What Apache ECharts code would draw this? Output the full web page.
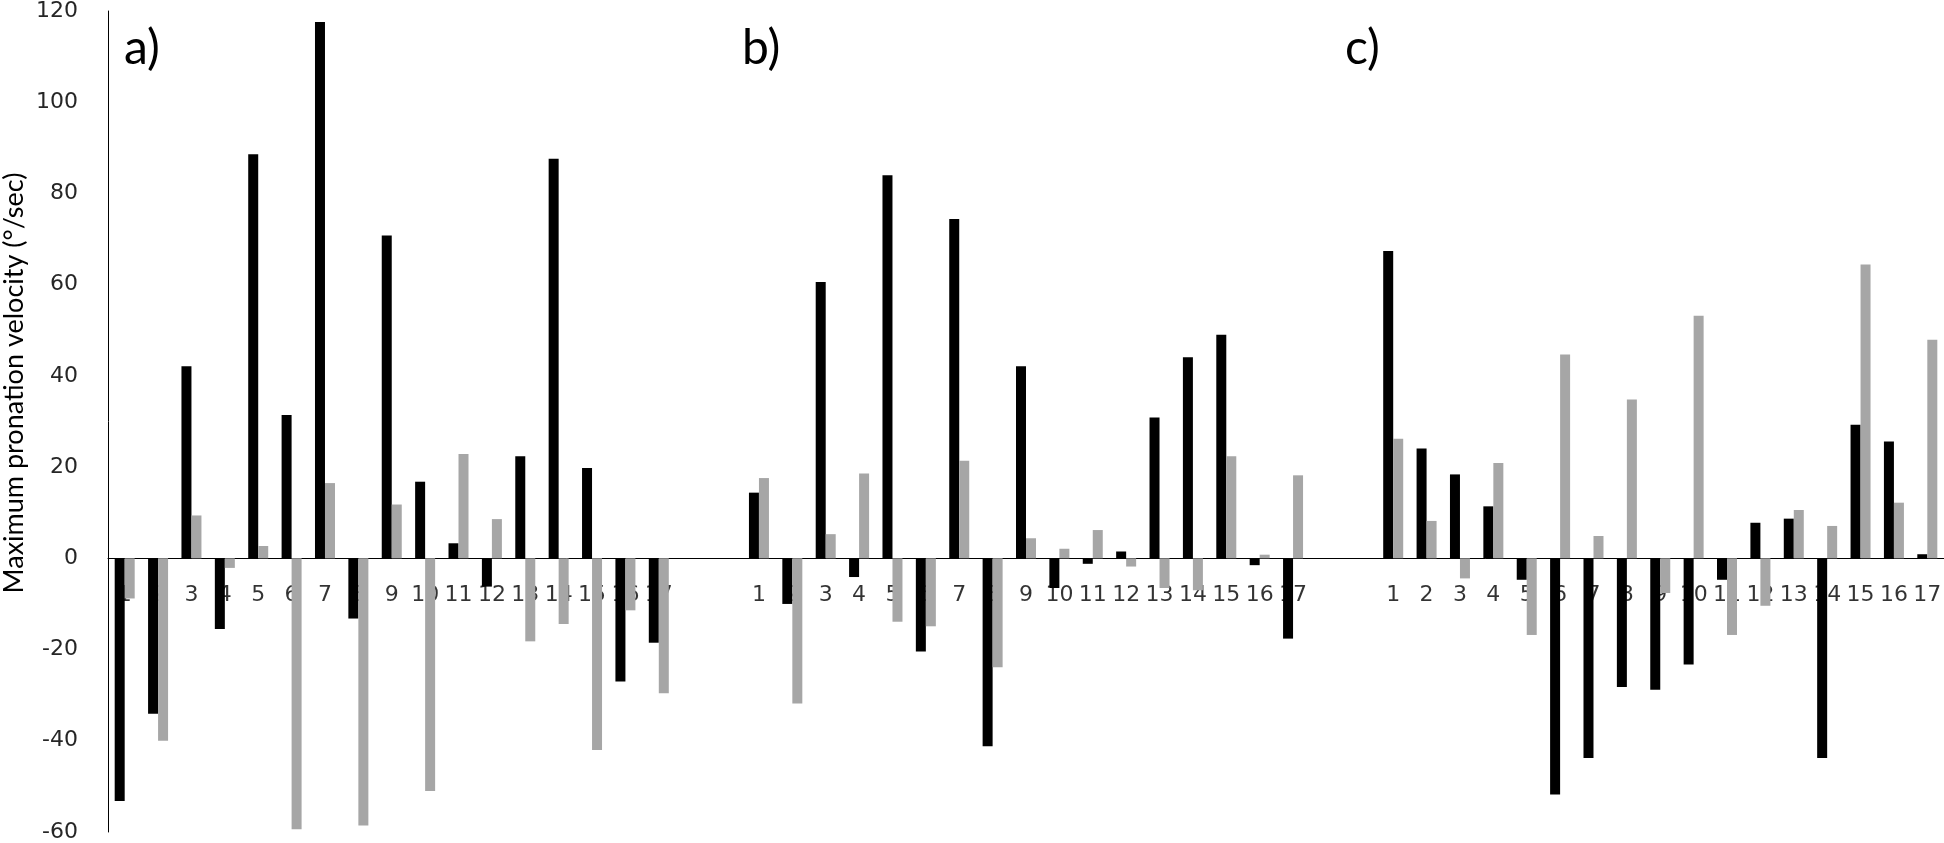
<!DOCTYPE html>
<html>
<head>
<meta charset="utf-8">
<script src="https://cdn.jsdelivr.net/npm/echarts@6/dist/echarts.min.js"></script>
<style>
  html, body { margin: 0; padding: 0; background: #fff; }
  #main { width: 1944px; height: 843px; }
</style>
</head>
<body>
<div id="main"></div>
<script>
// subject numbers shown under each bar pair
const subjects = ['1','2','3','4','5','6','7','8','9','10','11','12','13','14','15','16','17'];
const panelNames = ['a)', 'b)', 'c)'];
const yTicks = { min: -60, max: 120, step: 20 };

// panel a
const aBlack = [-53.2, -34.1, 42.1, -15.5, 88.6, 31.4, 117.6, -13.2, 70.8, 16.8, 3.3, -6.2, 22.4, 87.6, 19.8, -27, -18.5];
const aGray  = [-8.8, -40, 9.4, -2.1, 2.7, -59.4, 16.5, -58.6, 11.8, -51, 22.9, 8.6, -18.2, -14.4, -42, -11.4, -29.6];
// panel b
const bBlack = [14.4, -10, 60.6, -4.1, 84, -20.4, 74.4, -41.2, 42.1, -6.5, -1.2, 1.5, 30.9, 44.1, 49, -1.5, -17.6];
const bGray  = [17.6, -31.8, 5.3, 18.6, -13.9, -14.9, 21.4, -23.9, 4.4, 2.1, 6.2, -1.8, -6.5, -7, 22.4, 0.8, 18.2];
// panel c
const cBlack = [67.4, 24.1, 18.4, 11.4, -4.7, -51.8, -43.8, -28.2, -28.8, -23.3, -4.7, 7.8, 8.7, -43.8, 29.3, 25.6, 0.9];
const cGray  = [26.2, 8.2, -4.4, 20.9, -16.8, 44.7, 4.9, 34.8, -7.6, 53.2, -16.8, -10.4, 10.6, 7.1, 64.4, 12.2, 47.9];

// two empty slots between panels
const gap = ['', ''];
const gapVals = [null, null];

const categories = [...subjects, ...gap, ...subjects, ...gap, ...subjects];
const blackData = [...aBlack, ...gapVals, ...bBlack, ...gapVals, ...cBlack];
const grayData  = [...aGray, ...gapVals, ...bGray, ...gapVals, ...cGray];
// anchors on the zero line that carry the subject numbers
const zeroLine = categories.map(() => 0);

const chart = echarts.init(document.getElementById('main'));

chart.setOption({
  backgroundColor: '#fff',
  animation: false,
  title: [
    { text: panelNames[0], left: 119, top: 20 },
    { text: panelNames[1], left: 737, top: 20 },
    { text: panelNames[2], left: 1340, top: 20 }
  ].map(t => ({
    ...t,
    textStyle: { fontFamily: 'Lato', fontSize: 48, fontWeight: 'normal', color: '#000' }
  })),
  graphic: [{
    type: 'text',
    x: 14,
    y: 383,
    rotation: Math.PI / 2,
    style: {
      text: 'Maximum pronation velocity (°/sec)',
      font: '27px "Liberation Sans Narrow", Lato',
      fill: '#000',
      textAlign: 'center',
      textVerticalAlign: 'middle'
    }
  }],
  grid: { left: 108, right: 0, top: 10, bottom: 10, containLabel: false },
  xAxis: {
    type: 'category',
    data: categories,
    axisLine: { onZero: true, lineStyle: { color: '#000', width: 1 } },
    axisTick: { show: false },
    axisLabel: { show: false },
    splitLine: { show: false }
  },
  yAxis: {
    type: 'value',
    min: yTicks.min,
    max: yTicks.max,
    interval: yTicks.step,
    axisLine: { show: true, lineStyle: { color: '#000', width: 1 } },
    axisTick: { show: false },
    splitLine: { show: false },
    axisLabel: {
      margin: 30,
      fontFamily: 'DejaVu Sans',
      fontSize: 22,
      color: '#262626'
    }
  },
  series: [
    {
      type: 'scatter',
      data: zeroLine,
      symbolSize: 0,
      z: 1,
      silent: true,
      label: {
        show: true,
        position: 'bottom',
        distance: 26,
        formatter: p => categories[p.dataIndex],
        fontFamily: 'DejaVu Sans',
        fontSize: 22,
        color: '#000'
      }
    },
    {
      type: 'bar',
      data: blackData,
      barWidth: 10,
      barGap: '0%',
      z: 2,
      itemStyle: { color: '#000' }
    },
    {
      type: 'bar',
      data: grayData,
      barWidth: 10,
      z: 2,
      itemStyle: { color: '#a6a6a6' }
    }
  ]
});
</script>
</body>
</html>
